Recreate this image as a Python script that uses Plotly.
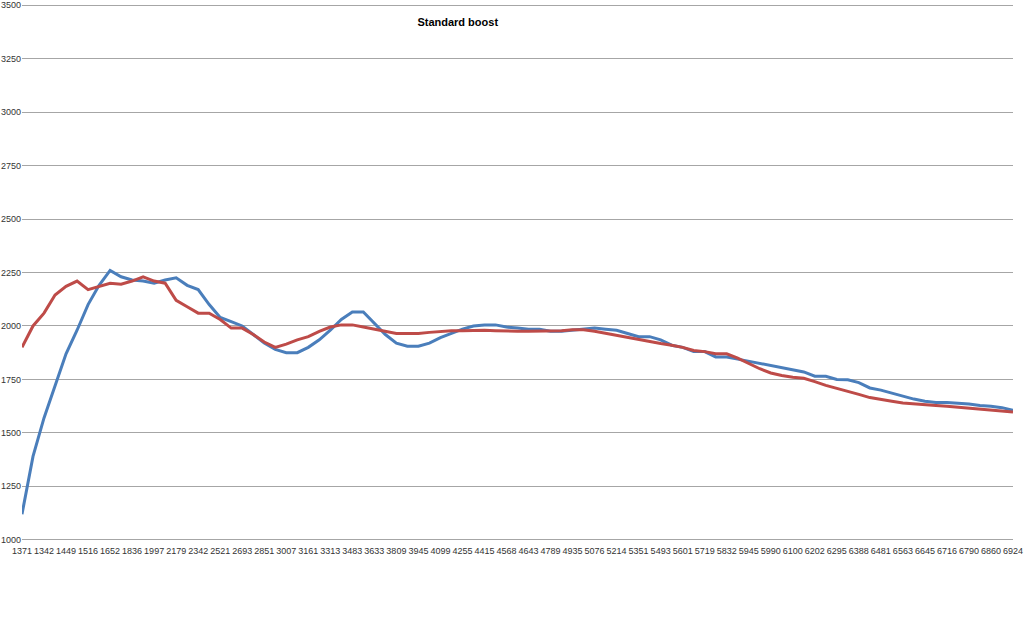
import plotly.graph_objects as go

tick_labels = ["1371", "1342", "1449", "1516", "1652", "1836", "1997", "2179", "2342", "2521",
               "2693", "2851", "3007", "3161", "3313", "3483", "3633", "3809", "3945", "4099",
               "4255", "4415", "4568", "4643", "4789", "4935", "5076", "5214", "5351", "5493",
               "5601", "5719", "5832", "5945", "5990", "6100", "6202", "6295", "6388", "6481",
               "6563", "6645", "6716", "6790", "6860", "6924"]

blue = [1120, 1390, 1570, 1720, 1870, 1980, 2100, 2190, 2260, 2230,
        2215, 2210, 2200, 2215, 2225, 2190, 2170, 2100, 2040, 2020,
        2000, 1960, 1920, 1890, 1875, 1875, 1900, 1935, 1980, 2030,
        2065, 2065, 2010, 1960, 1920, 1905, 1905, 1920, 1945, 1965,
        1985, 2000, 2005, 2005, 1995, 1990, 1985, 1985, 1975, 1975,
        1980, 1985, 1990, 1985, 1980, 1965, 1950, 1950, 1935, 1910,
        1900, 1880, 1880, 1855, 1855, 1845, 1835, 1825, 1815, 1805,
        1795, 1785, 1765, 1765, 1750, 1748, 1735, 1710, 1700, 1685,
        1670, 1658, 1648, 1642, 1642, 1640, 1635, 1628, 1625, 1618,
        1605]

red = [1900, 2000, 2060, 2145, 2185, 2210, 2170, 2185, 2200, 2195,
       2210, 2230, 2210, 2200, 2120, 2090, 2060, 2060, 2030, 1990,
       1990, 1960, 1925, 1900, 1915, 1935, 1950, 1975, 1995, 2005,
       2005, 1995, 1985, 1975, 1965, 1965, 1965, 1970, 1975, 1978,
       1978, 1980, 1980, 1978, 1975, 1975, 1975, 1975, 1975, 1978,
       1982, 1982, 1975, 1965, 1955, 1945, 1935, 1928, 1918, 1910,
       1900, 1885, 1880, 1870, 1870, 1850, 1825, 1800, 1780, 1768,
       1760, 1755, 1740, 1722, 1708, 1695, 1680, 1665, 1655, 1648,
       1640, 1635, 1630, 1628, 1625, 1620, 1618, 1610, 1605, 1603,
       1598]

x = list(range(len(blue)))
tick_positions = list(range(0, len(blue), 2))

fig = go.Figure()
fig.add_trace(go.Scatter(x=x, y=blue, mode="lines", line=dict(color="#4a7ebb", width=3)))
fig.add_trace(go.Scatter(x=x, y=red, mode="lines", line=dict(color="#be4b48", width=3)))

fig.update_layout(
    width=1024, height=635,
    margin=dict(l=22, r=11, t=2, b=92),
    paper_bgcolor="white", plot_bgcolor="white",
    showlegend=False,
    title=dict(text="<b>Standard boost</b>", x=0.447, xanchor="center", y=0.965, yanchor="middle",
               font=dict(family="Liberation Sans, Arial", size=11, color="#000000")),
    font=dict(family="Liberation Sans, Arial", size=9, color="#333333"),
)
fig.update_xaxes(
    range=[0, len(blue) - 1], automargin=False,
    tickmode="array", tickvals=tick_positions, ticktext=tick_labels,
    tickangle=0, showgrid=False, zeroline=False, showline=False,
    tickfont=dict(size=9, color="#333333"), ticks="", ticklabelstandoff=1,
)
fig.update_yaxes(
    range=[985, 3515], automargin=False, tickmode="array", tickvals=list(range(1000, 3501, 250)),
    showgrid=True, gridcolor="#a6a6a6", gridwidth=1, zeroline=False, showline=False,
    tickfont=dict(size=9, color="#333333"), ticks="", ticklabelstandoff=0,
)

fig.write_html("out.html", config={"displayModeBar": False},
               post_script="document.body.style.margin='0';")
